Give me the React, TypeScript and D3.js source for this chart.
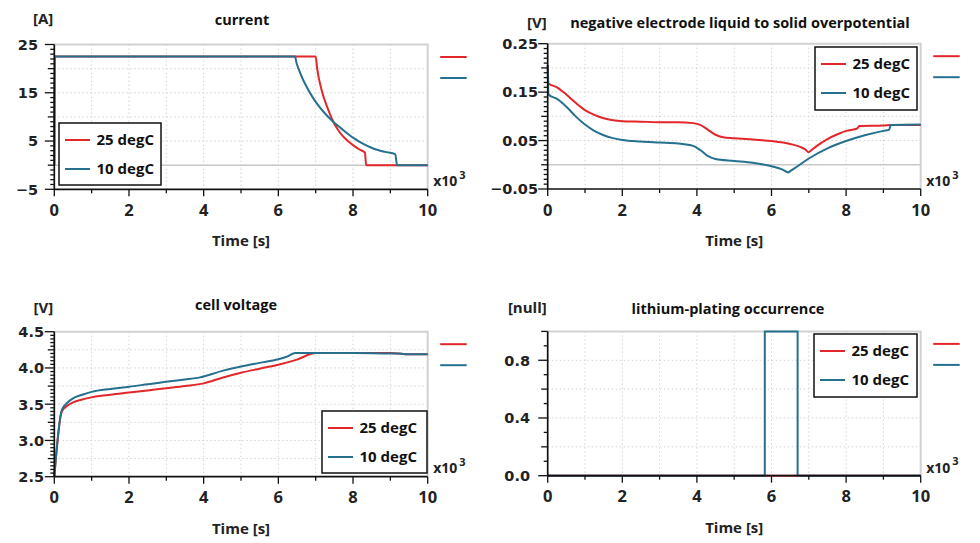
import * as d3 from 'd3';
import React from 'react';

// time axis in seconds, shown as x10^3
const timeTicks = [0, 2000, 4000, 6000, 8000, 10000];

// current [A]
const tCurrent25 = [0, 10, 7000, 7040, 7160, 7340, 7470, 7600, 7740, 7870, 8000, 8160, 8320, 8350, 10000];
const current25 = [0, 22.5, 22.5, 20.0, 15.5, 11.4, 9.0, 7.3, 5.9, 4.95, 4.15, 3.3, 2.6, 0, 0];
const tCurrent10 = [0, 10, 6450, 6480, 6540, 6650, 6760, 6900, 7030, 7250, 7470, 7750, 8000, 8250, 8540, 8850, 9130, 9180, 10000];
const current10 = [0, 22.5, 22.5, 21.4, 20.0, 17.9, 16.2, 14.3, 12.8, 10.7, 9.0, 7.2, 5.7, 4.5, 3.45, 2.75, 2.3, 0, 0];

// negative electrode liquid to solid overpotential [V]
const tEta25 = [0, 20, 250, 500, 750, 1000, 1250, 1500, 1750, 2000, 2500, 3000, 3500, 3900, 4100, 4300, 4500, 4700, 5000, 5500, 6000, 6500, 6800, 6900, 7000, 7050, 7200, 7500, 7800, 8000, 8300, 8350, 9000, 9200, 10000];
const eta25 = [0.206, 0.168, 0.16, 0.145, 0.128, 0.113, 0.103, 0.096, 0.092, 0.09, 0.089, 0.088, 0.088, 0.086, 0.082, 0.072, 0.062, 0.057, 0.055, 0.052, 0.049, 0.043, 0.036, 0.032, 0.026, 0.029, 0.038, 0.053, 0.064, 0.07, 0.075, 0.08, 0.081, 0.082, 0.082];
const tEta10 = [0, 20, 250, 500, 750, 1000, 1250, 1500, 1750, 2000, 2500, 3000, 3500, 3900, 4100, 4300, 4500, 5000, 5500, 6000, 6300, 6450, 6500, 6700, 7000, 7500, 8000, 8500, 9000, 9150, 9200, 10000];
const eta10 = [0.206, 0.145, 0.136, 0.12, 0.1, 0.083, 0.07, 0.061, 0.055, 0.051, 0.048, 0.046, 0.044, 0.039, 0.03, 0.018, 0.012, 0.008, 0.004, -0.003, -0.01, -0.016, -0.013, -0.003, 0.013, 0.034, 0.049, 0.061, 0.07, 0.072, 0.082, 0.083];

// cell voltage [V]
const tVolt25 = [0, 200, 350, 500, 750, 1000, 1500, 2000, 2500, 3000, 3500, 4000, 4500, 5000, 5500, 6000, 6500, 7000, 8000, 9000, 9200, 9400, 10000];
const volt25 = [2.5, 3.4, 3.48, 3.525, 3.565, 3.594, 3.63, 3.66, 3.69, 3.72, 3.75, 3.787, 3.866, 3.934, 3.99, 4.045, 4.115, 4.205, 4.205, 4.205, 4.2, 4.19, 4.19];
const tVolt10 = [0, 200, 350, 500, 750, 1000, 1500, 2000, 2500, 3000, 3500, 3900, 4500, 5000, 5500, 6000, 6250, 6450, 7000, 8000, 9000, 9200, 9400, 10000];
const volt10 = [2.5, 3.42, 3.52, 3.58, 3.63, 3.67, 3.71, 3.74, 3.775, 3.81, 3.84, 3.87, 3.96, 4.02, 4.07, 4.12, 4.16, 4.205, 4.205, 4.205, 4.2, 4.2, 4.19, 4.19];

// lithium-plating occurrence [null]
const tPlate25 = [0, 10000];
const plate25 = [0, 0];
const tPlate10 = [0, 5820, 5820, 6700, 6700, 10000];
const plate10 = [0, 0, 1, 1, 0, 0];

const seriesNames = ['25 degC', '10 degC'];
const colors = ['#e2262a', '#25708f'];
const FONT = "'Open Sans', sans-serif";
const TICK_FONT = "'DejaVu Sans', sans-serif";

type Panel = {
  title: string; titleX: number; titleY: number;
  unit: string; unitY: number;
  left: number; right: number; top: number; bottom: number;
  yDomain: [number, number];
  yLabels: number[]; yFmt: (v: number) => string; labelRight: number;
  gridStep: number; minorStep: number;
  legend: [number, number, number, number];
  x10Y: number;
  series: { t: number[]; v: number[]; curve: d3.CurveFactory }[];
};

const panels: Panel[] = [
  {
    title: 'current', titleX: 242, titleY: 24.5, unit: '[A]', unitY: 23.5,
    left: 54.3, right: 427.7, top: 44.5, bottom: 189.3, yDomain: [-5, 25],
    yLabels: [-5, 5, 15, 25], yFmt: d3.format('d'), labelRight: 38,
    gridStep: 5, minorStep: 1, legend: [59, 123, 102, 62], x10Y: 186,
    series: [
      { t: tCurrent25, v: current25, curve: d3.curveMonotoneX },
      { t: tCurrent10, v: current10, curve: d3.curveMonotoneX },
    ],
  },
  {
    title: 'negative electrode liquid to solid overpotential', titleX: 740, titleY: 28, unit: '[V]', unitY: 27.5,
    left: 547.7, right: 920.7, top: 43.7, bottom: 189, yDomain: [-0.05, 0.25],
    yLabels: [-0.05, 0.05, 0.15, 0.25], yFmt: d3.format('.2f'), labelRight: 538,
    gridStep: 0.05, minorStep: 0.01, legend: [815, 47, 102, 63], x10Y: 186,
    series: [
      { t: tEta25, v: eta25, curve: d3.curveMonotoneX },
      { t: tEta10, v: eta10, curve: d3.curveMonotoneX },
    ],
  },
  {
    title: 'cell voltage', titleX: 236, titleY: 309.5, unit: '[V]', unitY: 312.5,
    left: 54.3, right: 427.7, top: 331.7, bottom: 476.7, yDomain: [2.5, 4.5],
    yLabels: [2.5, 3, 3.5, 4, 4.5], yFmt: d3.format('.1f'), labelRight: 44,
    gridStep: 0.25, minorStep: 0.05, legend: [322, 411, 105, 62], x10Y: 473.3,
    series: [
      { t: tVolt25, v: volt25, curve: d3.curveMonotoneX },
      { t: tVolt10, v: volt10, curve: d3.curveMonotoneX },
    ],
  },
  {
    title: 'lithium-plating occurrence', titleX: 728, titleY: 313.5, unit: '[null]', unitY: 312.5,
    left: 547.7, right: 920.7, top: 331.4, bottom: 475.7, yDomain: [0, 1],
    yLabels: [0, 0.4, 0.8], yFmt: d3.format('.1f'), labelRight: 530,
    gridStep: 0.2, minorStep: 0.1, legend: [814, 334, 103, 63], x10Y: 472.7,
    series: [
      { t: tPlate25, v: plate25, curve: d3.curveLinear },
      { t: tPlate10, v: plate10, curve: d3.curveLinear },
    ],
  },
];

function steps(lo: number, hi: number, step: number) {
  const n = Math.round((hi - lo) / step);
  return d3.range(n + 1).map((i) => +(lo + i * step).toFixed(6));
}

function drawPanel(svg: d3.Selection<SVGSVGElement, unknown, null, undefined>, p: Panel) {
  const x = d3.scaleLinear().domain([0, 10000]).range([p.left, p.right]);
  const y = d3.scaleLinear().domain(p.yDomain).range([p.bottom, p.top]);
  const g = svg.append('g');
  const [y0, y1] = p.yDomain;
  const isLabel = (v: number) => p.yLabels.some((l) => Math.abs(l - v) < 1e-6);
  const isGrid = (v: number) => Math.abs(v / p.gridStep - Math.round(v / p.gridStep)) < 1e-6;

  // dotted grid
  steps(y0, y1, p.gridStep)
    .filter((v) => v > y0 && v < y1 && Math.abs(v) > 1e-9)
    .forEach((v) => {
      g.append('line')
        .attr('x1', p.left).attr('x2', p.right)
        .attr('y1', y(v)).attr('y2', y(v))
        .attr('stroke', '#d4d4d4').attr('stroke-width', 1)
        .attr('stroke-dasharray', '1.5,2.5');
    });
  d3.range(1000, 10000, 1000).forEach((t) => {
    g.append('line')
      .attr('x1', x(t)).attr('x2', x(t))
      .attr('y1', p.top).attr('y2', p.bottom)
      .attr('stroke', '#d4d4d4').attr('stroke-width', 1)
      .attr('stroke-dasharray', '1.5,2.5');
  });
  if (y0 < 0 && y1 > 0) {
    g.append('line')
      .attr('x1', p.left).attr('x2', p.right)
      .attr('y1', y(0)).attr('y2', y(0))
      .attr('stroke', '#c8c8c8').attr('stroke-width', 1.5);
  }
  // frame top / right
  g.append('path')
    .attr('d', `M${p.left},${p.top}H${p.right}V${p.bottom}`)
    .attr('fill', 'none').attr('stroke', '#d2d2d2').attr('stroke-width', 2);

  // series
  p.series.forEach((s, i) => {
    const line = d3.line<number>()
      .x((_, k) => x(s.t[k]))
      .y((d) => y(d))
      .curve(s.curve);
    g.append('path')
      .attr('d', line(s.v))
      .attr('fill', 'none')
      .attr('stroke', colors[i])
      .attr('stroke-width', 2)
      .attr('stroke-linejoin', 'round');
  });

  // axes
  g.append('line')
    .attr('x1', p.left).attr('x2', p.left).attr('y1', p.top).attr('y2', p.bottom)
    .attr('stroke', '#111').attr('stroke-width', 1.7);
  g.append('line')
    .attr('x1', p.left).attr('x2', p.right).attr('y1', p.bottom).attr('y2', p.bottom)
    .attr('stroke', '#111').attr('stroke-width', 1.7);
  steps(y0, y1, p.minorStep).forEach((v) => {
    const len = isLabel(v) ? 9.5 : isGrid(v) ? 6.5 : 4;
    g.append('line')
      .attr('x1', p.left - len).attr('x2', p.left)
      .attr('y1', y(v)).attr('y2', y(v))
      .attr('stroke', '#111').attr('stroke-width', 1.3);
  });
  d3.range(0, 10001, 1000).forEach((t) => {
    const len = t % 2000 === 0 ? 7 : 4;
    g.append('line')
      .attr('x1', x(t)).attr('x2', x(t))
      .attr('y1', p.bottom).attr('y2', p.bottom + len)
      .attr('stroke', '#111').attr('stroke-width', 1.3);
  });

  // tick labels
  p.yLabels.forEach((v) => {
    g.append('text')
      .attr('x', p.labelRight).attr('y', y(v)).attr('dy', '0.37em')
      .attr('text-anchor', 'end')
      .style('font', `700 14.5px ${TICK_FONT}`).attr('fill', '#222')
      .text(p.yFmt(v));
  });
  timeTicks.forEach((t) => {
    g.append('text')
      .attr('x', x(t)).attr('y', p.bottom + 26.5)
      .attr('text-anchor', 'middle')
      .style('font', `700 16.5px ${FONT}`).attr('fill', '#222')
      .text(d3.format('d')(t / 1000));
  });
  g.append('text')
    .attr('x', (p.left + p.right) / 2).attr('y', p.bottom + 57)
    .attr('text-anchor', 'middle')
    .style('font', `700 15px ${FONT}`).attr('fill', '#222')
    .text('Time [s]');
  const x10 = g.append('text')
    .attr('x', p.right + 5.5).attr('y', p.x10Y)
    .style('font', `700 14px ${FONT}`).attr('fill', '#222');
  x10.append('tspan').text('x10');
  x10.append('tspan').attr('dy', -7.5).attr('dx', 2).style('font-size', '11px').text('3');

  // title and unit
  g.append('text')
    .attr('x', p.titleX).attr('y', p.titleY)
    .attr('text-anchor', 'middle')
    .style('font', `700 14.5px ${FONT}`).attr('fill', '#111')
    .text(p.title);
  g.append('text')
    .attr('x', p.left - 1).attr('y', p.unitY)
    .attr('text-anchor', 'end')
    .style('font', `700 15px ${FONT}`).attr('fill', '#222')
    .text(p.unit);

  // short series markers at the right
  colors.forEach((c, i) => {
    g.append('line')
      .attr('x1', p.right + 12.5).attr('x2', p.right + 39)
      .attr('y1', p.top + 12.5 + i * 21).attr('y2', p.top + 12.5 + i * 21)
      .attr('stroke', c).attr('stroke-width', 2);
  });

  // legend
  const [lx, ly, lw, lh] = p.legend;
  g.append('rect')
    .attr('x', lx).attr('y', ly).attr('width', lw).attr('height', lh)
    .attr('fill', '#fff').attr('stroke', '#111').attr('stroke-width', 1.5);
  seriesNames.forEach((name, i) => {
    const ry = ly + 17 + i * 29;
    g.append('line')
      .attr('x1', lx + 6).attr('x2', lx + 31)
      .attr('y1', ry).attr('y2', ry)
      .attr('stroke', colors[i]).attr('stroke-width', 2);
    g.append('text')
      .attr('x', lx + 37.5).attr('y', ry).attr('dy', '0.36em')
      .style('font', `700 15px ${FONT}`).attr('fill', '#111')
      .text(name);
  });
}

export default function App() {
  const svgRef = React.useRef<SVGSVGElement>(null);

  React.useEffect(() => {
    if (svgRef.current == null) {
      return;
    }
    const svg = d3.select(svgRef.current);
    svg.selectAll('*').remove();
    panels.forEach((p) => drawPanel(svg, p));
  }, []);

  return (
    <svg
      ref={svgRef}
      width={980}
      height={543}
      style={{ position: 'absolute', left: 0, top: 0, background: '#fff' }}
    ></svg>
  );
}
